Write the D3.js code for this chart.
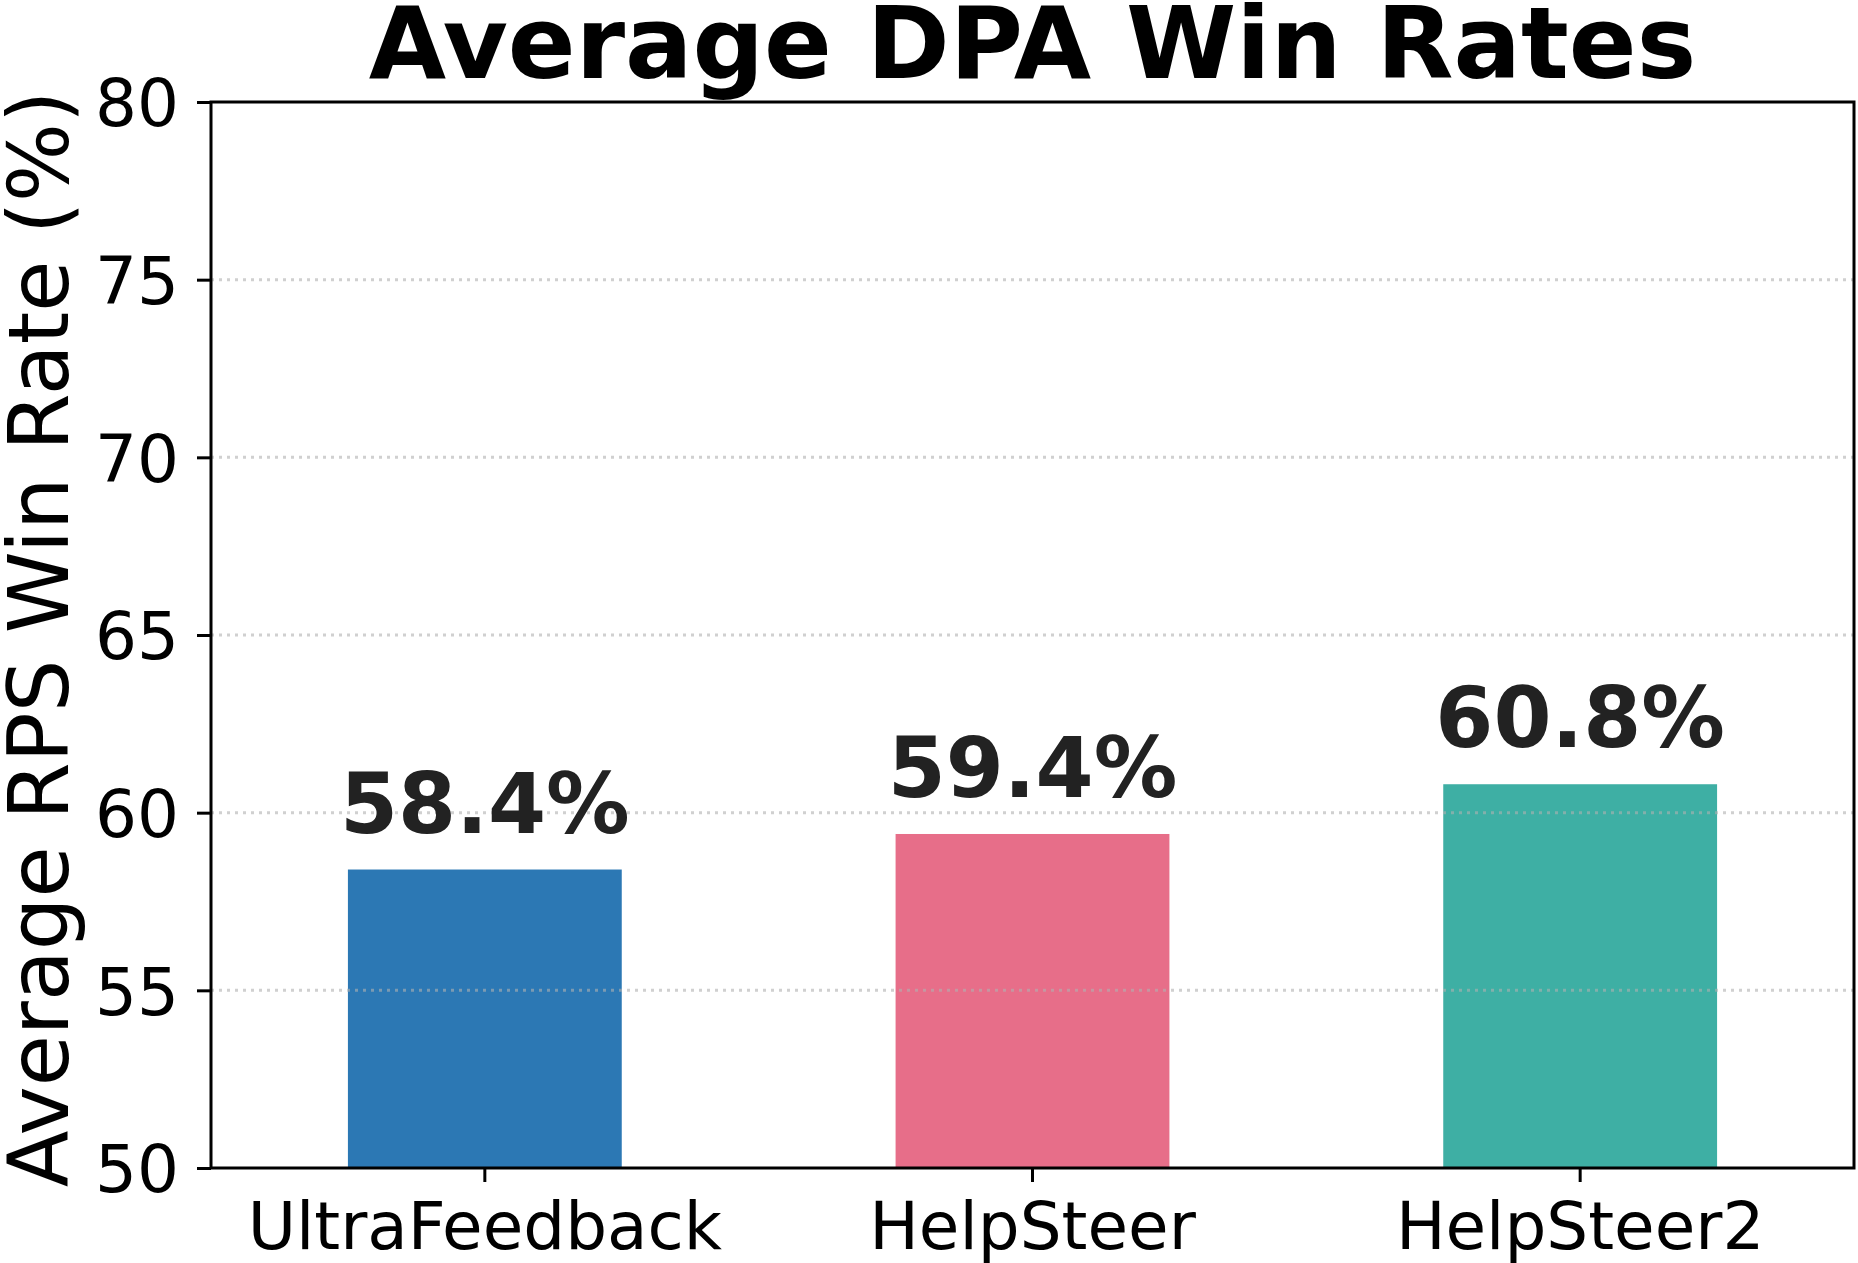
<!DOCTYPE html>
<html>
<head>
<meta charset="utf-8">
<script src="https://cdn.jsdelivr.net/npm/d3@7"></script>
<style>
  body { margin: 0; background: #fff; }
  text { font-family: "DejaVu Sans", sans-serif; }
</style>
</head>
<body>
<div id="viz"></div>
<script>
// Width and height
var w = 1858;
var h = 1263;

// data
var categories = ["UltraFeedback", "HelpSteer", "HelpSteer2"];
var winRates = [58.4, 59.4, 60.8];
var barColors = ["#2c78b4", "#e76e89", "#3eafa4"];
var yTicks = [50, 55, 60, 65, 70, 75, 80];

var margin = {top: 102, right: 4, bottom: 95, left: 211};
var innerW = w - margin.left - margin.right;
var innerH = h - margin.top - margin.bottom;

var svg = d3.select("#viz")
            .append("svg")
            .attr("width", w)
            .attr("height", h);

svg.append("rect").attr("width", w).attr("height", h).attr("fill", "#fff");

var g = svg.append("g")
           .attr("transform", "translate(" + margin.left + "," + margin.top + ")");

var x = d3.scaleBand()
          .domain(categories)
          .range([0, innerW])
          .paddingInner(0.5)
          .paddingOuter(0.25);

var y = d3.scaleLinear()
          .domain([50, 80])
          .range([innerH, 0]);

// bars
g.selectAll("rect.bar")
 .data(winRates)
 .enter()
 .append("rect")
 .attr("class", "bar")
 .attr("x", function(d, i) { return x(categories[i]); })
 .attr("width", x.bandwidth())
 .attr("y", function(d) { return y(d); })
 .attr("height", function(d) { return innerH - y(d); })
 .attr("fill", function(d, i) { return barColors[i]; });

// dotted grid, drawn over the bars
g.selectAll("line.grid")
 .data(yTicks.filter(function(t) { return t > 50 && t < 80; }))
 .enter()
 .append("line")
 .attr("class", "grid")
 .attr("x1", 0)
 .attr("x2", innerW)
 .attr("y1", function(d) { return y(d); })
 .attr("y2", function(d) { return y(d); })
 .attr("stroke", "#b0b0b0")
 .attr("stroke-opacity", 0.6)
 .attr("stroke-width", 3)
 .attr("stroke-dasharray", "3,5");

// value labels
g.selectAll("text.val")
 .data(winRates)
 .enter()
 .append("text")
 .attr("class", "val")
 .attr("x", function(d, i) { return x(categories[i]) + x.bandwidth() / 2; })
 .attr("y", function(d) { return y(d) - 37; })
 .attr("text-anchor", "middle")
 .attr("font-size", 83.5)
 .attr("font-weight", "bold")
 .attr("fill", "#222")
 .text(function(d) { return d.toFixed(1) + "%"; });

// axes
var yAxis = d3.axisLeft(y).tickValues(yTicks).tickSize(14).tickPadding(18);
var xAxis = d3.axisBottom(x).tickSize(14).tickPadding(18);

var gy = g.append("g").call(yAxis);
var gx = g.append("g").attr("transform", "translate(0," + innerH + ")").call(xAxis);

[gx, gy].forEach(function(a) {
  a.select(".domain").remove();
  a.selectAll(".tick line").attr("stroke", "#000").attr("stroke-width", 3);
  a.selectAll(".tick text")
   .attr("fill", "#000")
   .attr("font-size", 66)
   .attr("font-family", "DejaVu Sans, sans-serif");
});
gy.selectAll(".tick text").attr("dy", "0.36em");
gx.selectAll(".tick text").attr("dy", "0.74em");

// frame
g.append("rect")
 .attr("width", innerW)
 .attr("height", innerH)
 .attr("fill", "none")
 .attr("stroke", "#000")
 .attr("stroke-width", 3);

// title
svg.append("text")
   .attr("x", margin.left + innerW / 2)
   .attr("y", 78)
   .attr("text-anchor", "middle")
   .attr("font-size", 100)
   .attr("font-weight", "bold")
   .attr("fill", "#000")
   .text("Average DPA Win Rates");

// y label
svg.append("text")
   .attr("transform", "translate(68," + (margin.top + innerH / 2 + 4) + ") rotate(-90)")
   .attr("text-anchor", "middle")
   .attr("font-size", 83)
   .attr("fill", "#000")
   .text("Average RPS Win Rate (%)");
</script>
</body>
</html>
